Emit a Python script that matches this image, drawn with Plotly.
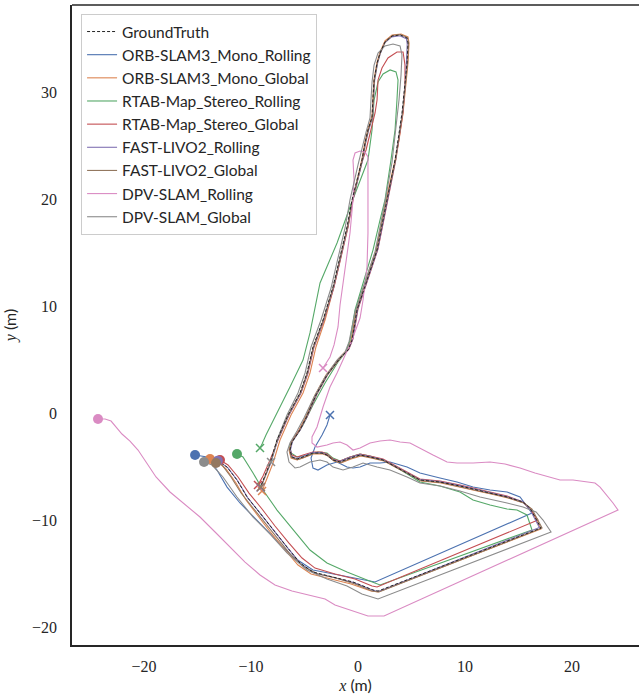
import plotly.graph_objects as go

# ---------------- data (metres) ----------------
ground_truth = [(-13.18,-4.39),(-12.24,-5.05),(-11.31,-6.26),(-10.37,-7.85),(-9.16,-9.35),(-7.94,-10.93),(-6.64,-12.52),(-5.42,-14.02),(-4.21,-14.86),(-2.34,-15.33),(-0.47,-15.79),(1.40,-16.54),(1.87,-16.64),(17.10,-10.75),(16.07,-8.88),(15.42,-8.32),(13.93,-7.85),(12.34,-7.48),(10.75,-7.10),(9.53,-6.82),(7.66,-6.45),(5.79,-6.26),(4.58,-5.61),(3.27,-4.86),(2.34,-4.39),(1.12,-4.11),(0.19,-3.93),(-0.75,-4.21),(-1.68,-4.58),(-2.34,-4.39),(-2.90,-3.93),(-3.36,-3.74),(-4.21,-3.74),(-5.14,-4.11),(-5.70,-4.30),(-6.17,-4.11),(-6.36,-3.46),(-6.17,-2.71),(-5.42,-1.59),(-4.86,-0.47),(-3.93,1.68),(-2.90,3.55),(-1.68,5.14),(-0.93,5.89),(-0.56,6.82),(-0.09,9.63),(0.84,12.43),(1.78,15.23),(2.34,18.04),(2.71,19.91),(3.46,23.64),(3.74,25.51),(4.11,28.04),(4.39,30.84),(4.58,32.71),(4.67,34.58),(4.58,35.05),(3.93,35.33),(3.18,35.23),(2.52,34.67),(2.06,33.64),(1.78,32.71),(1.50,31.12),(1.40,29.53),(1.31,27.66),(0.93,26.45),(0.65,25.23),(0.37,23.64),(-0.56,19.91),(-1.03,17.38),(-1.68,14.58),(-2.34,11.78),(-3.27,8.69),(-4.21,6.17),(-4.77,3.74),(-5.42,1.87),(-6.54,-0.19),(-7.57,-2.52),(-8.22,-4.67),(-8.88,-6.26),(-9.16,-7.01)]

orb_mono_rolling = [(-15.23,-3.93),(-14.11,-4.11),(-13.18,-5.33),(-12.24,-6.92),(-11.03,-8.41),(-9.44,-10.00),(-7.94,-11.59),(-6.07,-13.46),(-4.21,-14.67),(-2.34,-15.05),(-0.47,-15.42),(1.59,-15.79),(16.26,-9.35),(15.14,-7.85),(13.93,-7.38),(12.34,-7.20),(10.75,-6.92),(9.25,-6.45),(7.66,-6.07),(5.79,-5.61),(4.58,-5.05),(2.99,-4.58),(2.06,-4.67),(1.12,-4.67),(0.19,-5.05),(-0.47,-5.14),(-1.03,-5.05),(-1.96,-4.58),(-2.90,-4.86),(-3.74,-5.33),(-4.21,-5.14),(-4.39,-4.21),(-4.02,-3.18),(-3.36,-2.06),(-2.90,-1.12),(-2.62,-0.19)]

orb_mono_global = [(-13.83,-4.30),(-13.18,-4.49),(-12.34,-5.23),(-11.40,-6.54),(-10.47,-8.13),(-9.35,-9.63),(-8.13,-11.21),(-6.82,-12.80),(-5.61,-14.21),(-4.39,-15.05),(-2.52,-15.51),(-0.65,-15.98),(1.21,-16.64),(1.87,-16.73),(17.10,-10.84),(16.17,-8.97),(15.51,-8.41),(14.02,-7.94),(12.43,-7.57),(10.84,-7.20),(9.63,-6.92),(7.76,-6.54),(5.89,-6.36),(4.67,-5.70),(3.36,-4.95),(2.43,-4.49),(1.21,-4.21),(0.28,-4.02),(-0.65,-4.30),(-1.59,-4.67),(-2.24,-4.49),(-2.80,-4.02),(-3.27,-3.83),(-4.21,-3.83),(-5.14,-4.21),(-5.70,-4.39),(-6.26,-4.21),(-6.45,-3.46),(-6.26,-2.71),(-5.51,-1.59),(-4.95,-0.47),(-4.02,1.68),(-2.99,3.55),(-1.78,5.14),(-1.03,5.89),(-0.65,6.82),(-0.19,9.63),(0.75,12.43),(1.68,15.23),(2.24,18.04),(2.62,19.91),(3.46,23.64),(3.83,25.51),(4.21,28.04),(4.49,30.84),(4.67,32.71),(4.77,34.58),(4.67,35.14),(4.02,35.42),(3.18,35.33),(2.52,34.77),(2.06,33.74),(1.78,32.80),(1.50,31.21),(1.40,29.63),(1.31,27.76),(0.93,26.54),(0.65,25.33),(0.37,23.74),(-0.47,20.00),(-0.93,17.48),(-1.59,14.67),(-2.24,11.87),(-3.08,8.69),(-3.93,6.17),(-4.49,3.74),(-5.14,1.87),(-6.26,-0.19),(-7.29,-2.52),(-7.94,-4.67),(-8.60,-6.26),(-8.97,-7.29)]

rtab_stereo_rolling = [(-11.31,-3.83),(-10.75,-4.11),(-9.81,-5.61),(-8.88,-7.20),(-7.57,-9.07),(-6.07,-10.93),(-4.49,-12.80),(-2.90,-14.02),(-1.03,-14.86),(0.84,-15.61),(2.06,-16.07),(16.26,-10.93),(15.79,-9.53),(14.86,-9.07),(13.93,-8.97),(12.34,-8.60),(10.75,-8.13),(9.53,-7.38),(7.66,-6.82),(5.79,-6.45),(4.58,-5.70),(3.27,-4.86),(2.34,-4.39),(1.12,-4.02),(0.19,-3.83),(-0.75,-4.11),(-1.68,-4.49),(-2.34,-4.21),(-2.90,-3.74),(-3.74,-3.64),(-4.67,-3.93),(-5.70,-4.11),(-6.26,-3.74),(-6.36,-3.08),(-5.98,-2.34),(-5.14,-1.12),(-4.21,0.75),(-3.08,2.80),(-1.87,4.77),(-1.12,5.70),(-0.75,6.82),(-0.28,9.63),(0.56,12.43),(1.40,15.23),(2.06,18.04),(2.52,19.91),(3.08,23.64),(3.46,26.45),(3.64,29.25),(3.74,31.12),(3.55,31.87),(3.00,32.06),(2.34,31.68),(1.87,30.93),(1.50,29.25),(1.31,26.45),(0.93,23.64),(0.19,21.78),(-0.75,19.25),(-1.96,15.89),(-3.55,12.15),(-4.49,7.48),(-5.14,4.95),(-6.36,2.43),(-7.29,0.56),(-8.04,-0.84),(-8.60,-2.06),(-8.97,-2.90),(-9.16,-3.27)]

rtab_stereo_global = [(-12.90,-4.39),(-12.15,-4.86),(-11.21,-5.98),(-10.19,-7.48),(-8.97,-8.97),(-7.76,-10.56),(-6.45,-12.15),(-5.23,-13.55),(-4.02,-14.49),(-2.15,-15.05),(-0.28,-15.51),(1.31,-16.17),(1.78,-16.26),(16.82,-10.00),(16.07,-8.97),(15.42,-8.32),(13.93,-7.76),(12.34,-7.38),(10.75,-7.01),(9.53,-6.73),(7.66,-6.36),(5.79,-6.17),(4.58,-5.51),(3.27,-4.77),(2.34,-4.30),(1.12,-4.02),(0.19,-3.83),(-0.75,-4.11),(-1.68,-4.49),(-2.34,-4.30),(-2.90,-3.83),(-3.36,-3.64),(-4.21,-3.64),(-5.14,-3.93),(-5.70,-4.11),(-6.17,-3.93),(-6.36,-3.36),(-6.17,-2.62),(-5.42,-1.50),(-4.77,-0.37),(-3.83,1.78),(-2.80,3.64),(-1.59,5.23),(-0.84,5.98),(-0.47,6.92),(0.00,9.72),(0.93,12.52),(1.87,15.33),(2.43,18.13),(2.80,20.00),(3.55,23.74),(3.83,25.61),(4.21,28.13),(4.39,30.65),(4.39,32.52),(4.21,33.74),(3.64,33.74),(2.80,33.18),(2.24,32.24),(1.87,31.12),(1.78,29.25),(1.59,28.04),(1.12,25.98),(0.75,24.58),(0.37,23.46),(-0.47,19.91),(-0.93,17.38),(-1.59,14.58),(-2.24,11.78),(-3.18,8.69),(-4.11,6.17),(-4.67,3.74),(-5.33,1.87),(-6.45,-0.19),(-7.48,-2.52),(-8.22,-4.39),(-8.88,-5.89),(-9.35,-6.73)]

livo2_rolling = [(-13.10,-4.45),(-12.18,-5.10),(-11.25,-6.33),(-10.30,-7.93),(-9.10,-9.42),(-7.88,-11.00),(-6.58,-12.60),(-5.36,-14.08),(-4.15,-14.92),(-2.28,-15.38),(-0.41,-15.85),(1.46,-16.58),(1.92,-16.68),(16.95,-10.70),(15.98,-8.86),(15.35,-8.28),(13.88,-7.80),(12.30,-7.43),(10.70,-7.05),(9.48,-6.77),(7.61,-6.40),(5.74,-6.21),(4.53,-5.56),(3.22,-4.81),(2.29,-4.35),(1.07,-4.06),(0.14,-3.88),(-0.80,-4.16),(-1.73,-4.53),(-2.38,-4.35),(-2.94,-3.88),(-3.41,-3.69),(-4.25,-3.69),(-5.18,-4.06),(-5.74,-4.25),(-6.21,-4.06),(-6.31,-3.41),(-6.12,-2.66),(-5.37,-1.54),(-4.81,-0.42),(-3.88,1.73),(-2.85,3.60),(-1.64,5.19),(-0.89,5.94),(-0.51,6.87),(-0.04,9.68),(0.89,12.48),(1.83,15.28),(2.39,18.09),(2.76,19.96),(3.51,23.69),(3.79,25.56),(4.16,28.09),(4.44,30.89),(4.53,32.76),(4.60,34.50),(4.52,34.98),(3.90,35.25),(3.15,35.15),(2.50,34.60),(2.08,33.58),(1.82,32.65),(1.55,31.07),(1.45,29.48),(1.36,27.61),(0.98,26.40),(0.70,25.18),(0.42,23.59),(-0.51,19.86),(-0.98,17.33),(-1.63,14.53),(-2.29,11.73),(-3.22,8.64),(-4.16,6.12),(-4.72,3.69),(-5.37,1.82),(-6.49,-0.24),(-7.52,-2.57),(-8.17,-4.72),(-8.83,-6.31),(-9.11,-6.96)]

livo2_global = [(-13.27,-4.67),(-12.71,-4.86),(-11.87,-5.98),(-10.93,-7.48),(-9.81,-8.88),(-8.69,-10.28),(-7.48,-11.78),(-6.26,-13.27),(-5.05,-14.39),(-3.74,-15.05),(-2.06,-15.42),(-0.28,-15.98),(1.31,-16.64),(1.96,-16.73),(17.20,-10.75),(16.26,-8.97),(15.51,-8.41),(13.98,-7.90),(12.38,-7.52),(10.79,-7.15),(9.58,-6.87),(7.71,-6.50),(5.84,-6.31),(4.63,-5.65),(3.32,-4.91),(2.38,-4.44),(1.17,-4.16),(0.23,-3.97),(-0.70,-4.25),(-1.64,-4.63),(-2.29,-4.44),(-2.85,-3.97),(-3.32,-3.79),(-4.16,-3.79),(-5.09,-4.16),(-5.65,-4.35),(-6.21,-4.16),(-6.40,-3.50),(-6.21,-2.76),(-5.46,-1.64),(-4.90,-0.51),(-3.97,1.64),(-2.94,3.50),(-1.73,5.09),(-0.98,5.84),(-0.60,6.77),(-0.14,9.58),(0.79,12.38),(1.73,15.19),(2.29,18.00),(2.66,19.86),(3.50,23.60),(3.78,25.47),(4.16,28.00),(4.44,30.80),(4.63,32.66),(4.72,34.53),(4.63,35.09),(3.97,35.37),(3.22,35.28),(2.57,34.72),(2.10,33.69),(1.82,32.76),(1.54,31.17),(1.45,29.58),(1.36,27.71),(0.98,26.50),(0.70,25.28),(0.42,23.69),(-0.51,19.96),(-0.98,17.43),(-1.64,14.63),(-2.29,11.83),(-3.22,8.74),(-4.16,6.21),(-4.72,3.79),(-5.37,1.92),(-6.49,-0.14),(-7.52,-2.47),(-8.18,-4.62),(-8.83,-6.21),(-9.07,-6.92)]

dpv_rolling = [(-24.30,-0.56),(-23.64,-0.56),(-23.08,-0.75),(-22.62,-1.31),(-22.06,-1.96),(-21.31,-2.62),(-20.56,-3.46),(-19.81,-4.58),(-18.88,-5.98),(-17.57,-7.38),(-16.07,-8.60),(-14.77,-9.72),(-13.36,-11.12),(-11.96,-12.52),(-10.56,-13.93),(-9.16,-15.14),(-7.76,-16.07),(-6.17,-16.64),(-4.49,-17.01),(-3.08,-17.38),(-2.15,-17.94),(-0.75,-18.41),(0.93,-18.97),(2.43,-18.97),(24.30,-9.07),(23.83,-8.41),(23.18,-7.66),(22.62,-6.92),(22.15,-6.54),(21.40,-6.45),(20.09,-6.26),(18.88,-6.26),(17.76,-5.98),(16.54,-5.61),(15.14,-5.14),(13.74,-4.77),(12.34,-4.58),(10.75,-4.67),(9.25,-4.67),(8.32,-4.58),(7.01,-3.93),(5.79,-3.27),(4.86,-2.80),(3.93,-2.71),(2.99,-2.52),(2.06,-2.62),(1.12,-2.80),(0.19,-3.27),(-0.47,-3.46),(-1.03,-2.99),(-1.68,-2.71),(-2.34,-2.80),(-2.90,-2.99),(-3.83,-3.18),(-4.30,-2.80),(-4.30,-2.24),(-3.83,-1.31),(-3.27,0.56),(-2.62,2.43),(-1.96,3.74),(-0.56,6.82),(0.19,8.88),(0.47,10.56),(0.84,13.64),(0.93,16.82),(0.93,19.91),(0.93,22.71),(0.93,23.93),(0.65,24.39),(0.19,24.49),(-0.28,24.30),(-0.47,23.64),(-0.37,21.78),(-0.47,19.91),(-0.75,16.82),(-1.12,14.30),(-1.40,12.15),(-1.68,10.09),(-1.87,8.04),(-2.24,6.36),(-2.62,5.23),(-3.27,4.21)]

dpv_global = [(-14.39,-4.58),(-13.64,-4.86),(-12.62,-5.98),(-11.31,-7.85),(-9.81,-9.72),(-8.22,-11.31),(-6.64,-13.08),(-4.77,-14.67),(-2.90,-15.51),(-1.03,-16.17),(0.37,-16.92),(1.87,-17.38),(18.04,-11.12),(17.29,-10.00),(16.64,-9.25),(15.42,-8.79),(13.93,-8.41),(11.40,-7.85),(9.53,-7.29),(7.66,-6.82),(5.79,-6.54),(4.58,-5.98),(2.99,-5.33),(1.78,-5.05),(0.47,-4.67),(-0.47,-5.05),(-1.40,-5.33),(-2.34,-5.05),(-2.90,-4.58),(-3.55,-4.39),(-4.49,-4.58),(-5.42,-5.05),(-5.89,-5.14),(-6.45,-4.58),(-6.64,-3.64),(-6.36,-2.80),(-5.70,-1.68),(-5.05,-0.47),(-4.11,1.50),(-3.08,3.36),(-1.96,4.95),(-1.21,5.70),(-0.84,6.64),(-0.28,9.44),(0.65,12.24),(1.59,15.05),(2.15,17.85),(2.52,19.72),(3.18,23.46),(3.55,26.64),(3.83,29.25),(4.02,31.59),(4.11,33.46),(3.93,34.30),(3.27,34.49),(2.52,34.30),(1.87,33.64),(1.50,32.52),(1.31,30.93),(1.21,29.25),(1.12,27.57),(0.75,26.26),(0.37,24.77),(0.00,23.18),(-0.75,19.91),(-1.21,17.29),(-1.87,14.49),(-2.52,11.68),(-3.46,8.69),(-4.39,6.17),(-4.95,3.74),(-5.61,1.87),(-6.64,-0.19),(-7.57,-2.52),(-8.13,-4.58)]

methods = ["ORB-SLAM3_Mono_Rolling", "ORB-SLAM3_Mono_Global", "RTAB-Map_Stereo_Rolling",
           "RTAB-Map_Stereo_Global", "FAST-LIVO2_Rolling", "FAST-LIVO2_Global",
           "DPV-SLAM_Rolling", "DPV-SLAM_Global"]
trajectories = [orb_mono_rolling, orb_mono_global, rtab_stereo_rolling, rtab_stereo_global,
                livo2_rolling, livo2_global, dpv_rolling, dpv_global]
colors = ["#4C72B0", "#DD8452", "#55A868", "#C44E52", "#8172B3", "#937860", "#DA8BC3", "#8C8C8C"]

x_ticks = [-20, -10, 0, 10, 20]
y_ticks = [-20, -10, 0, 10, 20, 30]

# ---------------- figure ----------------
fig = go.Figure()

for i, (name, pts, col) in enumerate(zip(methods, trajectories, colors)):
    xs = [p[0] for p in pts]
    ys = [p[1] for p in pts]
    fig.add_trace(go.Scatter(x=xs, y=ys, mode="lines", name=name,
                             line=dict(color=col, width=1.1), legendrank=i + 2,
                             legendgroup=name))

fig.add_trace(go.Scatter(x=[p[0] for p in ground_truth], y=[p[1] for p in ground_truth],
                         mode="lines", name="GroundTruth", legendrank=1, legendgroup="gt",
                         line=dict(color="#262626", width=1, dash="3px,2px")))

for name, pts, col in zip(methods, trajectories, colors):
    fig.add_trace(go.Scatter(x=[pts[0][0]], y=[pts[0][1]], mode="markers", showlegend=False,
                             marker=dict(color=col, size=10, line=dict(width=0))))
    fig.add_trace(go.Scatter(x=[pts[-1][0]], y=[pts[-1][1]], mode="markers", showlegend=False,
                             marker=dict(symbol="x-thin", size=8, color=col,
                                         line=dict(color=col, width=1.5))))

axis_common = dict(showgrid=False, zeroline=False, showline=True, linecolor="#262626",
                   linewidth=1.5, ticks="", automargin=False,
                   tickfont=dict(family="Liberation Serif", size=16, color="#262626"))

fig.update_layout(
    width=639, height=696,
    margin=dict(l=72, r=0, t=5, b=51),
    paper_bgcolor="white", plot_bgcolor="white",
    xaxis=dict(range=[-26.73, 26.26], tickvals=x_ticks, ticklabelstandoff=6, **axis_common,
               title=dict(text='<span style="font-family:Liberation Serif"><i>x</i></span> (m)',
                          font=dict(family="Lato", size=16, color="#262626"), standoff=4)),
    yaxis=dict(range=[-21.68, 38.13], tickvals=y_ticks, ticklabelstandoff=10, **axis_common,
               title=dict(text='<span style="font-family:Liberation Serif"><i>y</i></span> (m)',
                          font=dict(family="Lato", size=16, color="#262626"), standoff=12)),
    legend=dict(x=0.016, y=0.986, xanchor="left", yanchor="top",
                bgcolor="rgba(255,255,255,0.85)", bordercolor="#cccccc", borderwidth=1,
                font=dict(family="Lato", size=15.5, color="#262626"), tracegroupgap=0),
    shapes=[dict(type="line", xref="paper", yref="paper", x0=0, x1=1, y0=1, y1=1,
                 line=dict(color="#262626", width=1.5))],
    showlegend=True,
)

fig.write_html("out.html", config={"displayModeBar": False},
               post_script="document.body.style.margin='0';document.body.style.padding='0';")
